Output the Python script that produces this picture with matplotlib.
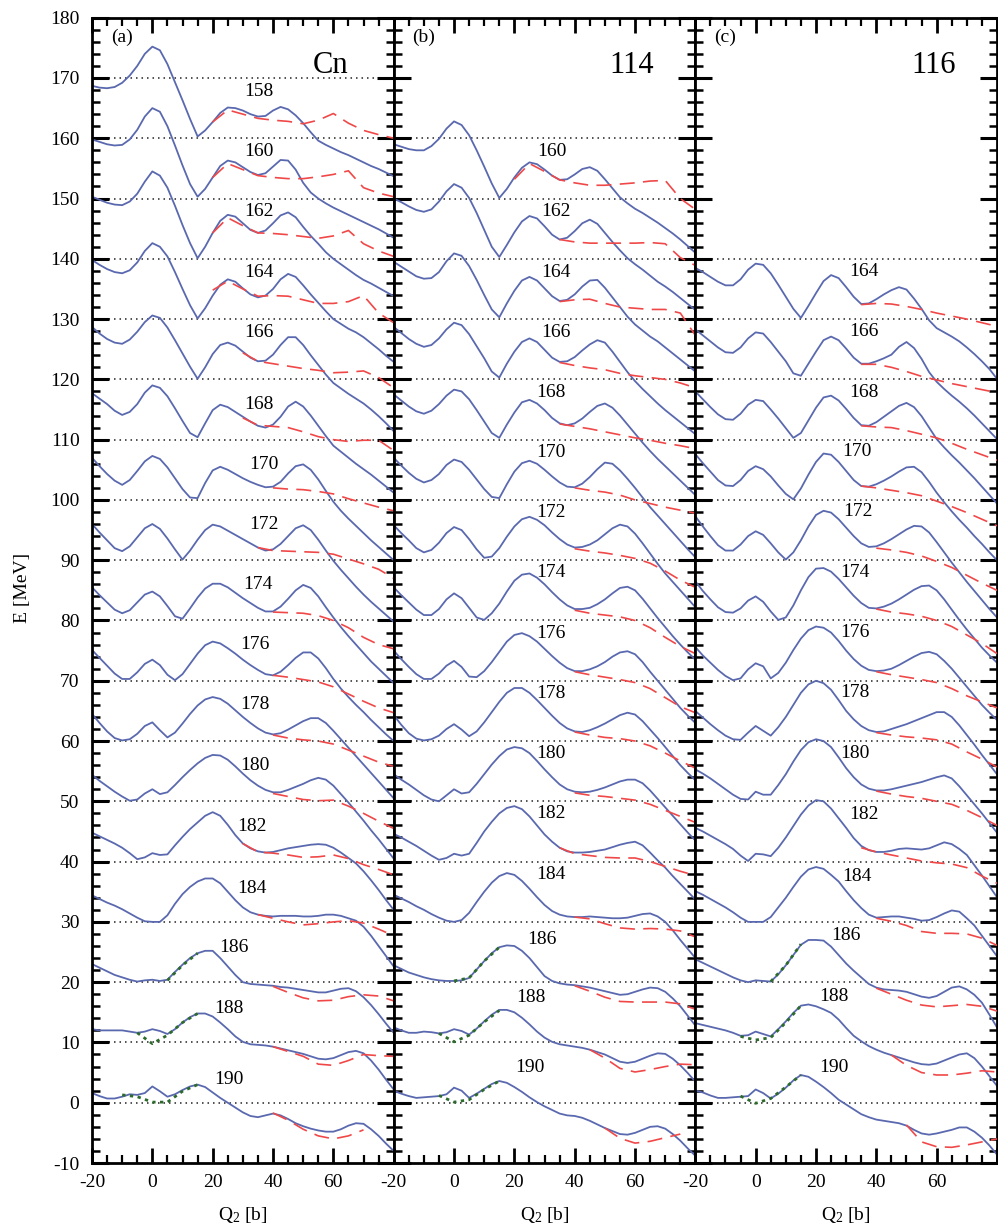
import matplotlib
matplotlib.use('Agg')
import matplotlib.pyplot as plt
from matplotlib.ticker import MultipleLocator
import numpy as np

plt.rcParams['font.family'] = ['Liberation Serif', 'DejaVu Serif']
plt.rcParams['mathtext.fontset'] = 'custom'
plt.rcParams['mathtext.rm'] = 'Liberation Serif'
plt.rcParams['mathtext.it'] = 'Liberation Serif:italic'

BLUE = '#5a69af'
RED = '#f04848'
GREEN = '#2d6b2d'

# quadrupole moment [b]: fine grid for the blue curves, coarse one for red / green
q2 = [-20, -17.5, -15, -12.5, -10, -7.5, -5, -2.5, 0, 2.5, 5, 7.5, 10, 12.5, 15, 17.5, 20,
      22.5, 25, 27.5, 30, 32.5, 35, 37.5, 40, 42.5, 45, 47.5, 50, 52.5, 55, 57.5, 60,
      62.5, 65, 67.5, 70, 72.5, 75, 77.5, 80]
q2_coarse = [-20, -15, -10, -5, 0, 5, 10, 15, 20, 25, 30, 35, 40, 45, 50, 55, 60, 65, 70, 75, 80]

# ---- (a) Cn : energies relative to each curve's own baseline ----
cn_n = [158, 160, 162, 164, 166, 168, 170, 172, 174, 176, 178, 180, 182, 184, 186, 188, 190]
cn_blue = [
    [8.7, 8.4, 8.3, 8.5, 9.2, 10.4, 12.0, 14.0, 15.2, 14.6, 12.3, 9.3, 6.3, 3.2, 0.3, 1.3, 2.7, 4.2, 5.1, 5.0,
     4.6, 4.0, 3.6, 3.7, 4.6, 5.2, 4.8, 3.8, 2.5, 1.0, -0.4, -1.1, -1.7, -2.3, -2.8, -3.4, -4.0, -4.6, -5.1, -5.7, -6.3],
    [9.8, 9.4, 9.0, 8.8, 8.9, 9.8, 11.4, 13.6, 15.0, 14.4, 12.0, 8.8, 5.5, 2.4, 0.3, 1.6, 3.5, 5.4, 6.3, 6.0,
     5.2, 4.4, 3.9, 4.2, 5.3, 6.4, 6.3, 4.8, 2.6, 1.0, 0.0, -0.8, -1.5, -2.1, -2.7, -3.3, -3.9, -4.5, -5.1, -5.8, -6.5],
    [10.3, 9.8, 9.3, 9.0, 8.9, 9.5, 10.8, 12.8, 14.5, 13.8, 11.8, 8.8, 5.6, 2.6, 0.1, 2.0, 4.3, 6.3, 7.3, 7.0,
     5.9, 4.8, 4.3, 4.7, 5.9, 7.2, 7.7, 6.9, 5.3, 3.8, 2.5, 1.1, 0.0, -0.9, -1.8, -2.7, -3.5, -4.1, -4.8, -5.5, -6.2],
    [9.8, 9.0, 8.3, 7.8, 7.6, 8.1, 9.4, 11.3, 12.6, 12.0, 10.4, 7.8, 5.0, 2.3, 0.1, 1.8, 3.9, 5.7, 6.6, 6.2,
     5.1, 4.1, 3.6, 3.9, 5.0, 6.6, 7.5, 7.0, 5.6, 4.1, 2.7, 1.3, 0.0, -0.8, -1.6, -2.2, -3.0, -4.0, -5.0, -6.1, -7.1],
    [8.7, 7.6, 6.7, 6.1, 5.9, 6.6, 7.9, 9.5, 10.6, 10.2, 8.6, 6.5, 4.3, 2.1, 0.1, 2.0, 4.2, 5.7, 6.1, 5.6,
     4.6, 3.6, 3.0, 3.1, 4.1, 5.7, 7.0, 7.0, 5.7, 4.0, 2.4, 0.8, -0.6, -1.5, -2.4, -3.2, -4.0, -5.0, -6.1, -7.3, -8.6],
    [7.7, 6.8, 5.9, 4.8, 4.1, 4.6, 5.9, 7.8, 9.0, 8.6, 7.2, 5.2, 3.1, 1.1, 0.4, 2.7, 4.9, 5.8, 5.4, 4.6,
     3.8, 3.0, 2.3, 2.0, 2.5, 3.8, 5.5, 6.3, 5.5, 4.0, 2.3, 0.6, -1.0, -2.0, -3.0, -4.0, -4.9, -5.8, -6.8, -7.8, -8.8],
    [7.0, 5.6, 4.3, 3.2, 2.5, 3.3, 4.8, 6.4, 7.3, 6.8, 5.4, 3.6, 1.8, 0.4, 0.3, 2.8, 4.9, 5.5, 5.0, 4.3,
     3.6, 3.0, 2.5, 2.1, 2.2, 3.0, 4.4, 5.6, 5.9, 5.0, 3.4, 1.5, -0.3, -1.8, -3.1, -4.3, -5.5, -6.7, -7.8, -8.9, -10.0],
    [6.0, 4.6, 3.3, 2.0, 1.5, 2.3, 3.8, 5.3, 6.0, 5.2, 3.6, 1.8, 0.1, 1.6, 3.4, 5.0, 5.9, 5.6, 4.9, 4.2,
     3.5, 2.8, 2.1, 1.6, 1.8, 2.7, 4.0, 5.3, 5.8, 5.0, 3.4, 1.6, -0.1, -1.6, -3.0, -4.4, -5.7, -6.9, -8.0, -9.1, -10.2],
    [5.5, 4.2, 3.0, 1.8, 1.2, 1.7, 3.0, 4.3, 4.8, 4.0, 2.4, 0.7, 0.3, 2.0, 3.8, 5.3, 6.1, 6.1, 5.5, 4.6,
     3.7, 2.9, 2.1, 1.5, 1.5, 2.3, 3.6, 5.0, 5.9, 5.4, 4.0, 2.2, 0.5, -1.1, -2.6, -4.0, -5.4, -6.8, -8.0, -9.2, -10.4],
    [5.1, 3.8, 2.5, 1.2, 0.3, 0.3, 1.4, 2.8, 3.5, 2.6, 1.0, 0.1, 1.1, 2.8, 4.5, 5.9, 6.5, 6.2, 5.4, 4.5,
     3.5, 2.6, 1.8, 1.1, 0.9, 1.5, 2.6, 3.8, 4.7, 4.7, 3.7, 2.1, 0.3, -1.3, -2.7, -4.0, -5.2, -6.5, -7.7, -8.9, -10.0],
    [4.5, 3.0, 1.6, 0.5, 0.1, 0.3, 1.2, 2.5, 3.1, 1.8, 0.6, 1.4, 2.9, 4.5, 5.9, 6.9, 7.3, 7.0, 6.2, 5.1,
     4.0, 3.0, 2.1, 1.4, 1.1, 1.3, 1.9, 2.6, 3.3, 3.8, 3.8, 3.0, 1.7, 0.3, -1.1, -2.5, -3.9, -5.3, -6.7, -8.1, -9.5],
    [4.4, 3.4, 2.5, 1.6, 0.8, 0.1, 0.3, 1.3, 2.0, 1.2, 1.5, 2.7, 4.0, 5.2, 6.3, 7.2, 7.7, 7.6, 6.9, 5.8,
     4.6, 3.5, 2.6, 1.9, 1.5, 1.5, 1.9, 2.4, 2.9, 3.5, 3.9, 3.6, 2.6, 1.2, -0.2, -1.7, -3.2, -4.8, -6.3, -7.9, -9.5],
    [4.8, 4.2, 3.6, 3.0, 2.3, 1.4, 0.4, 0.7, 1.4, 1.1, 1.2, 2.7, 4.1, 5.4, 6.5, 7.6, 8.2, 7.6, 6.1, 4.4,
     3.0, 2.2, 1.7, 1.5, 1.6, 1.9, 2.2, 2.4, 2.6, 2.8, 2.9, 2.8, 2.3, 1.5, 0.6, -0.3, -1.6, -3.1, -4.7, -6.4, -8.0],
    [4.4, 3.8, 3.2, 2.7, 2.1, 1.4, 0.7, 0.1, 0.0, 0.0, 1.1, 3.0, 4.6, 5.8, 6.7, 7.2, 7.2, 6.4, 5.0, 3.6,
     2.4, 1.6, 1.2, 1.0, 0.9, 1.0, 1.0, 1.0, 0.9, 0.9, 1.0, 1.2, 1.2, 1.0, 0.6, 0.2, -0.8, -2.3, -4.0, -5.7, -7.4],
    [3.0, 2.4, 1.8, 1.2, 0.8, 0.4, 0.1, 0.3, 0.4, 0.2, 0.4, 1.7, 2.9, 4.0, 4.8, 5.2, 5.2, 4.0, 2.6, 1.2,
     0.0, -0.3, -0.4, -0.5, -0.6, -0.8, -0.9, -1.1, -1.3, -1.5, -1.7, -1.7, -1.4, -1.1, -1.0, -1.5, -2.5, -3.8, -5.3, -6.9, -8.4],
    [2.2, 2.0, 2.0, 2.0, 2.0, 1.8, 1.6, 1.8, 2.2, 1.9, 1.4, 2.2, 3.3, 4.2, 4.8, 4.8, 4.3, 3.3, 2.2, 1.0,
     0.1, -0.3, -0.4, -0.5, -0.7, -1.0, -1.3, -1.6, -1.9, -2.3, -2.7, -2.8, -2.6, -2.1, -1.6, -1.4, -1.8, -3.0, -4.5, -6.2, -7.8],
    [1.6, 1.1, 0.7, 0.7, 1.0, 1.4, 1.3, 1.6, 2.7, 1.9, 1.0, 1.4, 2.1, 2.7, 3.0, 2.6, 1.7, 0.8, 0.0, -0.8,
     -1.6, -2.2, -2.4, -2.1, -1.8, -2.1, -2.7, -3.4, -3.9, -4.3, -4.6, -4.8, -4.8, -4.4, -3.8, -3.4, -3.5, -4.4, -5.5, -6.8, -8.0],
]
cn_red_start = [20, 20, 20, 20, 30, 30, 40, 35, 40, 40, 40, 40, 30, 35, 40, 40, 40]
cn_red = [
    [2.7, 4.7, 4.0, 3.3, 3.0, 2.8, 2.4, 3.0, 4.1, 2.5, 1.3, 0.6, 0.0],
    [3.5, 5.8, 4.8, 3.8, 3.5, 3.3, 3.3, 3.6, 4.0, 4.6, 1.8, 0.9, 0.3],
    [4.3, 6.8, 5.5, 4.3, 4.2, 4.0, 3.7, 3.4, 3.8, 4.7, 2.5, 1.3, 0.4],
    [4.8, 6.3, 5.0, 3.8, 3.9, 3.8, 3.2, 2.6, 2.6, 2.9, 3.9, 1.0, -0.6],
    [4.4, 3.0, 2.6, 2.2, 1.8, 1.5, 1.1, 1.2, 1.4, 0.3, -1.4],
    [3.6, 2.4, 2.2, 2.0, 1.3, 0.5, 0.0, -0.3, -0.1, -0.1, -1.8],
    [2.0, 1.8, 1.7, 1.4, 1.0, 0.2, -0.5, -1.2, -1.8],
    [2.1, 1.6, 1.5, 1.4, 1.3, 1.0, 0.2, -0.6, -1.5, -3.0],
    [1.4, 1.3, 1.2, 0.8, 0.0, -1.2, -2.8, -4.0, -4.7],
    [0.9, 0.6, 0.2, -0.2, -1.0, -2.2, -3.4, -4.5, -5.3],
    [1.0, 0.5, 0.2, 0.0, -0.5, -1.5, -2.5, -3.5, -4.2],
    [1.3, 0.8, 0.3, 0.1, 0.2, -0.8, -2.0, -3.3, -4.5],
    [3.0, 1.6, 1.4, 1.1, 0.7, 0.8, 1.1, 0.5, -0.5, -1.3, -2.2],
    [1.2, 0.6, 0.0, -0.5, -0.3, 0.0, 0.2, -0.2, -1.2, -2.3],
    [-0.7, -1.7, -2.6, -3.1, -3.0, -2.4, -2.1, -2.3, -3.1],
    [-0.7, -1.5, -2.3, -3.6, -3.8, -3.0, -2.0, -2.2, -2.3],
    [-1.7, -2.9, -4.4, -5.5, -6.0, -5.5, -4.5],
]
cn_green_start = [5, -5, -10]
cn_green = [
    [0.3, 2.8, 4.8],
    [1.6, -0.2, 1.2, 3.3, 4.8],
    [1.3, 1.0, 0.1, 0.1, 1.9, 3.0],
]
cn_label_q = [35.3, 35.3, 35.3, 35.3, 35.3, 35.3, 37, 37, 35, 34, 34, 34, 33, 33, 27, 25.5, 25.5]
cn_label_dy = [7.8, 7.8, 7.8, 7.8, 7.8, 5.9, 5.8, 6.0, 6.0, 6.0, 6.0, 6.0, 5.8, 5.6, 5.7, 5.7, 3.8]

# ---- (b) Z = 114 ----
fl_n = [160, 162, 164, 166, 168, 170, 172, 174, 176, 178, 180, 182, 184, 186, 188, 190]
fl_blue = [
    [9.0, 8.6, 8.2, 8.0, 8.0, 8.7, 9.9, 11.6, 12.8, 12.2, 10.5, 8.0, 5.3, 2.5, 0.1, 1.6, 3.5, 5.1, 6.0, 5.7,
     4.8, 3.8, 3.1, 3.2, 4.0, 4.9, 5.2, 4.6, 3.2, 1.7, 0.2, -0.8, -1.7, -2.4, -3.2, -4.0, -4.9, -5.8, -6.8, -7.9, -9.0],
    [10.0, 9.4, 8.7, 8.1, 7.8, 8.2, 9.5, 11.2, 12.4, 11.8, 10.1, 7.6, 4.8, 2.0, 0.3, 2.3, 4.4, 6.2, 7.1, 6.7,
     5.4, 4.0, 3.2, 3.5, 4.6, 5.9, 6.5, 5.8, 4.3, 2.8, 1.4, 0.1, -0.9, -1.8, -2.8, -3.8, -4.6, -5.5, -6.5, -7.5, -8.5],
    [9.5, 8.7, 7.9, 7.1, 6.7, 6.8, 7.8, 9.6, 10.9, 10.5, 8.8, 6.5, 4.0, 1.6, 0.3, 2.6, 4.7, 6.4, 7.0, 6.4,
     5.1, 3.8, 3.0, 3.2, 4.1, 5.4, 6.4, 6.5, 5.2, 3.6, 2.0, 0.4, -0.9, -1.9, -2.9, -3.7, -4.7, -5.7, -6.7, -7.7, -8.7],
    [8.7, 7.7, 6.7, 5.9, 5.4, 5.7, 6.8, 8.3, 9.4, 9.0, 7.5, 5.5, 3.5, 1.3, 0.3, 2.6, 4.6, 6.2, 6.8, 6.2,
     4.9, 3.6, 2.9, 3.0, 3.7, 4.8, 5.8, 6.5, 6.1, 4.6, 2.9, 1.2, -0.3, -1.6, -2.8, -4.0, -5.1, -6.1, -7.1, -8.1, -9.1],
    [7.5, 6.5, 5.5, 4.7, 4.3, 4.8, 5.9, 7.3, 8.3, 8.0, 6.7, 4.9, 3.0, 1.1, 0.3, 2.5, 4.5, 6.2, 6.6, 6.0,
     4.9, 3.6, 2.7, 2.4, 2.7, 3.5, 4.6, 5.6, 6.0, 5.3, 4.0, 2.5, 1.0, -0.5, -1.9, -3.2, -4.4, -5.6, -6.8, -8.0, -9.2],
    [7.0, 5.7, 4.5, 3.5, 2.9, 3.3, 4.3, 5.8, 6.7, 6.3, 5.0, 3.4, 1.8, 0.5, 0.3, 2.6, 4.7, 6.1, 6.5, 6.0,
     5.0, 3.9, 2.9, 2.2, 2.1, 2.7, 3.8, 5.1, 6.2, 6.0, 4.9, 3.5, 2.0, 0.4, -1.2, -2.6, -4.0, -5.4, -6.8, -8.2, -9.5],
    [5.8, 4.5, 3.3, 2.0, 1.3, 1.7, 2.9, 4.5, 5.5, 5.0, 3.5, 1.8, 0.4, 0.6, 2.0, 3.9, 5.6, 6.8, 7.2, 6.7,
     5.8, 4.6, 3.5, 2.6, 2.1, 2.2, 2.6, 3.3, 4.3, 5.3, 5.9, 5.6, 4.4, 2.8, 1.1, -0.6, -2.2, -3.6, -5.0, -6.4, -7.8],
    [5.5, 4.2, 3.0, 1.8, 0.9, 0.9, 1.9, 3.5, 4.5, 3.7, 2.1, 0.5, 0.1, 1.2, 2.8, 4.8, 6.6, 7.6, 7.8, 7.1,
     6.0, 4.7, 3.5, 2.5, 1.9, 1.9, 2.1, 2.7, 3.5, 4.5, 5.4, 5.6, 5.0, 3.6, 2.0, 0.4, -1.1, -2.6, -4.0, -5.3, -6.5],
    [5.0, 3.6, 2.3, 1.1, 0.3, 0.3, 1.2, 2.5, 3.3, 2.3, 0.7, 0.6, 1.6, 3.1, 4.8, 6.5, 7.6, 7.9, 7.4, 6.5,
     5.3, 4.1, 3.0, 2.1, 1.6, 1.6, 1.9, 2.4, 3.1, 4.0, 4.7, 4.9, 4.4, 3.1, 1.5, 0.0, -1.5, -3.0, -4.5, -5.8, -7.0],
    [4.3, 2.7, 1.3, 0.4, 0.1, 0.3, 0.9, 2.0, 2.8, 1.9, 0.8, 1.6, 3.1, 4.8, 6.5, 8.0, 8.8, 8.8, 8.0, 6.8,
     5.5, 4.2, 3.0, 2.1, 1.6, 1.5, 1.8, 2.3, 2.9, 3.6, 4.3, 4.7, 4.4, 3.3, 1.9, 0.5, -1.0, -2.5, -4.0, -5.3, -6.5],
    [4.5, 3.6, 2.8, 1.9, 1.0, 0.3, 0.0, 1.0, 2.0, 1.3, 1.5, 2.9, 4.5, 6.1, 7.5, 8.6, 9.0, 8.8, 8.0, 6.7,
     5.3, 4.0, 2.8, 2.0, 1.6, 1.5, 1.6, 1.9, 2.3, 2.8, 3.3, 3.6, 3.6, 3.0, 1.8, 0.4, -1.0, -2.4, -3.8, -5.2, -6.5],
    [4.6, 4.0, 3.3, 2.6, 1.8, 1.0, 0.3, 0.6, 1.3, 1.0, 1.3, 3.1, 5.0, 6.6, 8.0, 8.9, 9.2, 8.7, 7.5, 6.0,
     4.5, 3.3, 2.3, 1.7, 1.5, 1.5, 1.6, 1.8, 2.0, 2.4, 2.8, 3.1, 3.3, 2.7, 1.5, 0.2, -1.0, -2.4, -3.7, -5.0, -6.3],
    [4.5, 3.9, 3.3, 2.6, 2.0, 1.3, 0.7, 0.2, 0.0, 0.3, 1.5, 3.3, 5.0, 6.5, 7.6, 8.1, 7.8, 6.8, 5.5, 4.1,
     2.8, 1.8, 1.2, 0.9, 0.8, 0.8, 0.9, 0.8, 0.7, 0.6, 0.6, 0.7, 1.0, 1.3, 1.4, 0.9, 0.0, -1.4, -3.0, -4.5, -6.0],
    [2.8, 2.2, 1.6, 1.2, 0.8, 0.5, 0.3, 0.2, 0.2, 0.3, 0.7, 2.1, 3.5, 4.8, 5.8, 6.1, 6.0, 5.2, 4.0, 2.5,
     1.0, 0.2, -0.2, -0.4, -0.5, -0.7, -0.9, -1.2, -1.5, -1.8, -2.1, -2.0, -1.6, -1.2, -0.9, -1.0, -1.6, -2.7, -4.0, -5.6, -7.2],
    [2.5, 2.0, 1.6, 1.6, 1.8, 1.7, 1.5, 1.7, 2.2, 1.9, 1.3, 2.3, 3.5, 4.6, 5.4, 5.4, 5.0, 4.1, 3.0, 1.8,
     0.8, 0.1, -0.3, -0.5, -0.7, -0.9, -1.2, -1.6, -2.0, -2.6, -3.2, -3.4, -3.2, -2.7, -2.2, -1.8, -1.9, -2.7, -3.8, -5.1, -6.5],
    [2.0, 1.5, 1.1, 0.8, 0.9, 1.0, 1.1, 1.4, 2.5, 2.0, 0.8, 1.5, 2.3, 3.1, 3.6, 3.3, 2.6, 1.8, 0.9, 0.1,
     -0.6, -1.2, -1.8, -2.1, -2.2, -2.5, -3.0, -3.6, -4.2, -4.7, -5.2, -5.3, -5.0, -4.5, -4.0, -3.9, -4.3, -5.2, -6.3, -7.6, -8.8],
]
fl_red_start = [20, 35, 35, 35, 35, 40, 40, 40, 40, 40, 40, 35, 40, 40, 45, 50]
fl_red = [
    [3.2, 5.8, 4.5, 3.1, 2.6, 2.2, 2.2, 2.4, 2.6, 2.9, 3.0, 0.0, -1.8],
    [3.2, 2.8, 2.6, 2.6, 2.6, 2.6, 2.7, 2.5, 0.2, -1.1],
    [2.9, 3.2, 3.3, 2.6, 2.0, 1.8, 1.6, 1.6, 1.0, -2.7],
    [2.8, 2.3, 1.9, 1.6, 1.0, 0.6, 0.3, 0.0, -0.6, -1.4],
    [2.6, 2.2, 1.8, 1.3, 0.8, 0.3, -0.1, -0.6, -1.0, -1.5],
    [2.0, 1.6, 1.3, 0.8, 0.0, -0.6, -1.2, -1.7, -2.2],
    [1.9, 1.5, 1.2, 0.8, 0.3, -0.5, -1.8, -3.3, -4.5],
    [1.7, 1.2, 0.9, 0.6, 0.0, -1.2, -2.8, -4.3, -5.5],
    [1.5, 1.0, 0.6, 0.2, -0.3, -1.3, -2.8, -4.3, -5.3],
    [1.5, 1.0, 0.6, 0.4, 0.0, -0.8, -2.0, -3.3, -4.5],
    [1.4, 1.0, 0.8, 0.5, 0.2, -0.5, -1.5, -2.5, -3.5],
    [2.3, 1.3, 1.0, 0.7, 0.6, 0.6, 0.0, -0.8, -1.6, -2.3],
    [0.8, 0.5, -0.3, -1.0, -1.2, -1.1, -1.2, -1.5, -2.5],
    [-0.6, -1.5, -2.5, -3.2, -3.3, -3.3, -3.3, -3.6, -4.5],
    [-1.2, -2.6, -4.3, -4.9, -4.5, -4.0, -3.6, -3.7],
    [-4.2, -5.9, -6.7, -6.4, -5.8, -5.2],
]
fl_green_start = [0, -5, -5]
fl_green = [
    [0.2, 0.7, 3.5, 5.8],
    [1.5, 0.1, 1.2, 3.4, 5.3],
    [1.2, 0.1, 0.5, 2.2, 3.6],
]
fl_label_q = [32.3, 33.7, 33.7, 33.7, 32, 32, 32, 32, 32, 32, 32, 32, 32, 29, 25.5, 25]
fl_label_dy = [7.8, 7.8, 7.8, 7.8, 7.9, 7.9, 7.9, 7.9, 7.9, 7.9, 7.9, 7.9, 7.9, 7.0, 7.5, 5.8]

# ---- (c) Z = 116 ----
lv_n = [164, 166, 168, 170, 172, 174, 176, 178, 180, 182, 184, 186, 188, 190]
lv_blue = [
    [8.5, 7.8, 7.0, 6.2, 5.6, 5.6, 6.6, 8.2, 9.2, 9.0, 7.6, 5.7, 3.7, 1.7, 0.2, 2.2, 4.3, 6.3, 7.3, 6.8,
     5.3, 3.7, 2.5, 2.6, 3.3, 4.1, 4.8, 5.3, 4.9, 3.4, 1.7, -0.2, -1.5, -2.2, -2.9, -3.7, -4.7, -5.8, -7.0, -8.3, -9.9],
    [8.3, 7.3, 6.3, 5.3, 4.5, 4.4, 5.3, 6.8, 7.8, 7.6, 6.2, 4.6, 3.0, 1.0, 0.6, 2.6, 4.6, 6.5, 7.1, 6.5,
     5.1, 3.6, 2.6, 2.6, 3.0, 3.5, 4.1, 5.4, 6.2, 5.2, 3.4, 1.2, -0.4, -1.6, -2.7, -3.7, -4.8, -6.0, -7.3, -8.6, -9.9],
    [8.0, 6.7, 5.4, 4.2, 3.4, 3.3, 4.3, 5.8, 6.6, 6.4, 5.0, 3.5, 1.9, 0.3, 1.1, 3.2, 5.3, 7.0, 7.3, 6.5,
     5.1, 3.6, 2.4, 2.3, 2.9, 3.8, 4.7, 5.6, 6.1, 5.4, 3.9, 2.0, 0.1, -1.3, -2.6, -3.8, -5.1, -6.4, -7.8, -9.2, -10.6],
    [7.6, 6.1, 4.7, 3.3, 2.4, 2.3, 3.3, 4.8, 5.6, 5.1, 3.9, 2.4, 1.0, 0.1, 1.9, 4.2, 6.3, 7.7, 7.5, 6.3,
     4.8, 3.3, 2.3, 2.2, 2.6, 3.2, 3.9, 4.7, 5.4, 5.5, 4.6, 3.0, 1.2, -0.4, -1.9, -3.3, -4.6, -6.0, -7.3, -8.7, -10.0],
    [7.3, 5.6, 4.0, 2.5, 1.6, 1.6, 2.6, 4.0, 4.8, 4.2, 2.8, 1.3, 0.1, 1.3, 3.3, 5.6, 7.5, 8.2, 7.9, 6.8,
     5.4, 4.0, 2.8, 2.2, 2.3, 2.8, 3.5, 4.3, 5.1, 5.7, 5.6, 4.6, 3.0, 1.3, -0.4, -2.0, -3.6, -5.1, -6.6, -8.1, -9.5],
    [6.5, 4.9, 3.5, 2.2, 1.4, 1.3, 2.0, 3.3, 4.0, 3.1, 1.5, 0.1, 0.5, 2.5, 5.0, 7.2, 8.6, 8.7, 8.1, 6.9,
     5.5, 4.1, 2.9, 2.1, 2.0, 2.3, 2.8, 3.5, 4.3, 5.1, 5.7, 5.8, 5.0, 3.5, 1.8, 0.1, -1.5, -3.0, -4.5, -5.8, -7.0],
    [5.6, 4.2, 3.0, 1.8, 0.8, 0.1, 0.4, 1.9, 2.9, 2.4, 0.4, 1.3, 3.0, 5.1, 7.0, 8.4, 9.0, 8.8, 8.0, 6.6,
     5.0, 3.6, 2.5, 1.8, 1.6, 1.7, 2.0, 2.6, 3.3, 4.0, 4.6, 4.8, 4.4, 3.3, 2.0, 0.5, -1.0, -2.5, -4.0, -5.3, -6.5],
    [5.0, 3.9, 2.8, 1.8, 0.9, 0.3, 0.2, 1.4, 2.5, 1.7, 0.9, 2.3, 4.0, 6.0, 8.0, 9.4, 10.0, 9.6, 8.5, 6.8,
     5.0, 3.6, 2.5, 1.8, 1.5, 1.6, 2.0, 2.4, 2.8, 3.3, 3.8, 4.3, 4.8, 4.8, 4.0, 2.6, 1.0, -0.6, -2.3, -3.9, -5.5],
    [5.3, 4.6, 3.8, 2.9, 2.0, 1.1, 0.4, 0.3, 1.6, 1.1, 1.1, 2.7, 4.5, 6.6, 8.5, 9.8, 10.3, 10.0, 9.0, 7.3,
     5.5, 4.0, 2.8, 2.1, 1.8, 1.8, 2.0, 2.3, 2.6, 2.9, 3.2, 3.6, 4.0, 4.3, 3.8, 2.5, 1.0, -0.5, -2.0, -3.6, -5.2],
    [5.6, 5.0, 4.3, 3.6, 2.9, 2.1, 1.0, 0.1, 1.3, 1.2, 0.9, 2.3, 4.0, 5.9, 7.8, 9.3, 10.2, 10.0, 8.8, 7.2,
     5.6, 3.9, 2.6, 1.9, 1.6, 1.6, 1.8, 2.1, 2.2, 2.1, 2.0, 2.2, 2.7, 3.2, 2.9, 2.1, 1.1, -0.6, -2.3, -4.1, -5.9],
    [5.1, 4.5, 3.8, 3.1, 2.4, 1.6, 0.7, 0.0, 0.0, 0.0, 0.8, 2.4, 4.0, 5.8, 7.5, 8.7, 9.1, 8.8, 7.8, 6.7,
     5.1, 3.6, 2.3, 1.2, 0.7, 0.8, 0.9, 0.9, 0.7, 0.5, 0.2, 0.3, 0.8, 1.4, 1.9, 1.7, 0.6, -0.6, -2.3, -4.0, -5.7],
    [3.8, 3.2, 2.6, 2.0, 1.4, 0.8, 0.3, 0.0, 0.3, 0.2, 0.1, 1.3, 2.8, 4.5, 6.2, 7.0, 7.0, 6.9, 5.9, 4.5,
     3.1, 1.9, 0.8, -0.3, -0.9, -1.2, -1.3, -1.4, -1.6, -2.0, -2.4, -2.6, -2.3, -1.6, -0.9, -0.7, -1.2, -2.1, -3.4, -5.4, -7.5],
    [3.2, 2.9, 2.6, 2.3, 2.0, 1.6, 1.1, 1.2, 1.8, 1.4, 1.0, 2.2, 3.5, 4.9, 6.1, 6.3, 6.0, 5.5, 4.9, 3.8,
     2.4, 1.1, 0.2, -0.6, -1.2, -1.7, -2.1, -2.5, -2.9, -3.3, -3.6, -3.7, -3.5, -3.0, -2.5, -2.0, -1.8, -2.6, -4.0, -5.6, -7.2],
    [2.0, 1.7, 1.2, 0.8, 0.8, 0.9, 1.0, 1.1, 2.2, 1.6, 0.7, 1.5, 2.5, 3.7, 4.6, 4.3, 3.5, 2.6, 1.6, 0.5,
     -0.3, -1.1, -1.9, -2.4, -2.8, -3.0, -3.2, -3.4, -3.8, -4.5, -5.1, -5.3, -5.1, -4.8, -4.5, -4.1, -4.1, -4.8, -5.8, -7.1, -8.6],
]
lv_red_start = [35, 35, 35, 35, 40, 40, 40, 40, 40, 35, 40, 40, 45, 50]
lv_red = [
    [2.4, 2.6, 2.5, 2.1, 1.6, 1.0, 0.5, 0.0, -0.6, -1.2],
    [2.5, 2.5, 2.0, 1.3, 0.5, -0.1, -0.7, -1.2, -1.7, -2.2],
    [2.3, 2.1, 2.0, 1.5, 0.9, 0.3, -0.6, -1.6, -2.5, -3.4],
    [2.3, 2.0, 1.6, 1.2, 0.7, -0.2, -1.1, -2.1, -3.2, -4.3],
    [2.0, 1.7, 1.3, 0.7, -0.2, -1.2, -2.5, -3.8, -5.0],
    [1.9, 1.4, 1.1, 0.7, 0.0, -1.0, -2.4, -3.8, -5.5],
    [1.5, 1.0, 0.6, 0.2, -0.3, -1.3, -2.5, -3.5, -4.5],
    [1.4, 1.0, 0.7, 0.5, 0.2, -0.5, -1.8, -3.0, -4.3],
    [1.7, 1.2, 0.8, 0.5, 0.0, -0.5, -1.5, -2.7, -4.0],
    [2.3, 1.6, 1.1, 0.6, 0.1, -0.2, -0.4, -1.0, -2.4, -3.6],
    [0.6, 0.1, -0.6, -1.6, -1.9, -1.9, -2.0, -2.7, -3.9],
    [-1.0, -2.0, -3.0, -3.8, -4.1, -3.9, -3.7, -4.0, -4.8],
    [-2.1, -3.8, -5.0, -5.4, -5.4, -5.1, -4.7, -4.9],
    [-3.7, -6.5, -7.3, -7.4, -7.0, -6.5, -6.0],
]
lv_green_start = [5, -5, -5]
lv_green = [
    [0.1, 2.8, 6.3],
    [1.0, 0.4, 0.8, 3.3, 6.1],
    [1.1, -0.1, 0.7, 2.6, 4.6],
]
lv_label_q = [35.8, 35.8, 35.8, 33.6, 34, 33, 33, 33, 33, 35.8, 33.6, 29.8, 25.9, 25.9]
lv_label_dy = [7.9, 7.9, 7.9, 8.0, 8.0, 8.0, 8.0, 8.0, 8.0, 7.8, 7.6, 7.7, 7.6, 5.9]

green_n = [186, 188, 190]


def baseline(n):
    """Each curve is shifted up by 5 MeV per two neutrons below N=190"""
    return 5 * (190 - n)


def segment(start, values):
    i = q2_coarse.index(start)
    return q2_coarse[i:i + len(values)]


def draw_panel(ax, isotopes, blue, red_start, red, green_start, green, label_q, label_dy, tag, element):
    top = baseline(isotopes[0]) + 10
    ax.hlines(list(range(0, top + 1, 10)), -20, 80, colors='#222222',
              linestyles=(0, (1, 2.6)), lw=1.1, zorder=1)

    for i, n in enumerate(isotopes):
        b = baseline(n)
        ax.plot(q2, np.add(blue[i], b), color=BLUE, lw=1.3, zorder=2)
        ax.plot(segment(red_start[i], red[i]), np.add(red[i], b), color=RED, lw=1.2,
                dashes=(9, 5), zorder=3)
        ax.text(label_q[i], b + label_dy[i], str(n), ha='center', va='center', fontsize=14)

    for k, n in enumerate(green_n):
        b = baseline(n)
        ax.plot(segment(green_start[k], green[k]), np.add(green[k], b), color=GREEN, lw=2.0,
                dashes=(1.2, 1.6), zorder=4)

    ax.text(-10, 176.8, tag, ha='center', va='center', fontsize=14)
    ax.text(59, 172, element, ha='center', va='center', fontsize=22)

    ax.set_xlim(-20, 80)
    ax.set_ylim(-10, 180)
    ax.set_xticks([-20, 0, 20, 40, 60, 80], ['-20', '0', '20', '40', '60', ''])
    ax.xaxis.set_minor_locator(MultipleLocator(5))
    ax.yaxis.set_major_locator(MultipleLocator(10))
    ax.yaxis.set_minor_locator(MultipleLocator(2))
    ax.tick_params(which='both', direction='in', top=True, right=True, labelsize=14)
    ax.tick_params(axis='x', which='major', length=11, width=2.0, pad=8)
    ax.tick_params(axis='x', which='minor', length=6, width=1.6)
    ax.tick_params(axis='y', which='major', length=12, width=2.2, pad=9)
    ax.tick_params(axis='y', which='minor', length=6, width=1.8)
    for s in ax.spines.values():
        s.set_linewidth(2.0)


fig = plt.figure(figsize=(9.98, 12.32), dpi=100)
W, H = 998.0, 1232.0
lefts = [92, 393.7, 695.3]
width = 301.7
ax_a = fig.add_axes([lefts[0] / W, 69 / H, width / W, 1145.3 / H])
ax_b = fig.add_axes([lefts[1] / W, 69 / H, width / W, 1145.3 / H])
ax_c = fig.add_axes([lefts[2] / W, 69 / H, width / W, 1145.3 / H])

draw_panel(ax_a, cn_n, cn_blue, cn_red_start, cn_red, cn_green_start, cn_green,
           cn_label_q, cn_label_dy, '(a)', 'Cn')
draw_panel(ax_b, fl_n, fl_blue, fl_red_start, fl_red, fl_green_start, fl_green,
           fl_label_q, fl_label_dy, '(b)', '114')
draw_panel(ax_c, lv_n, lv_blue, lv_red_start, lv_red, lv_green_start, lv_green,
           lv_label_q, lv_label_dy, '(c)', '116')

yt = list(range(-10, 181, 10))
ax_a.set_yticks(yt, [str(v) for v in yt])
ax_b.tick_params(labelleft=False)
ax_c.tick_params(labelleft=False)

for l in lefts:
    fig.text((l + width / 2) / W, 1 - 1215 / H, 'Q$_2$ [b]', ha='center', va='center', fontsize=14)
fig.text(22 / W, 1 - 588 / H, 'E [MeV]', rotation=90, ha='center', va='center', fontsize=14)

fig.savefig('out.png', dpi=100)
